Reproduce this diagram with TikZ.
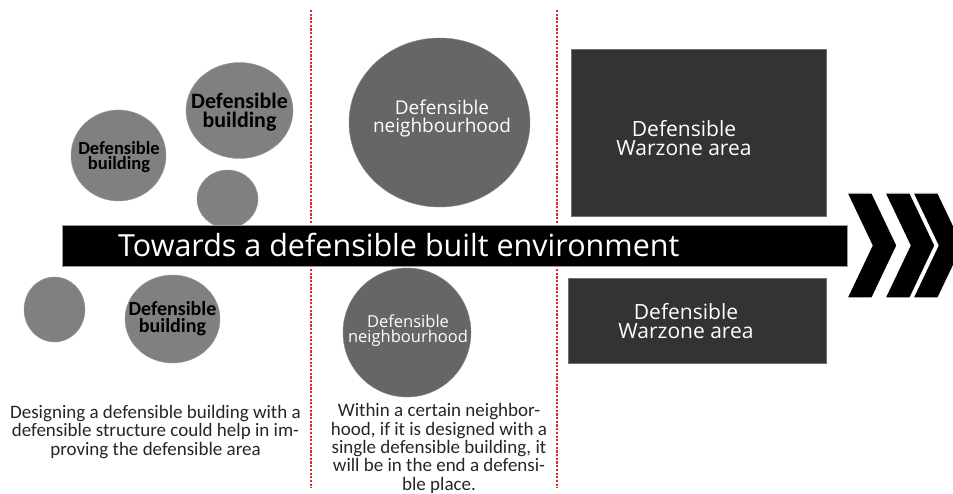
\documentclass[tikz,border=0pt]{standalone}
\usepackage{fontspec}
\setmainfont{Carlito}
\newfontfamily\seg{Open Sans}
\usetikzlibrary{shapes.geometric}
\definecolor{lightblob}{HTML}{808080}
\definecolor{darkblob}{HTML}{666666}
\definecolor{rectgray}{HTML}{333333}
\definecolor{dotred}{HTML}{E02A2A}
\tikzset{
  blob/.style={ellipse, fill=lightblob, draw=lightblob!80, line width=0.4, inner sep=0},
  nblob/.style={ellipse, fill=darkblob, draw=darkblob!80, line width=0.4, inner sep=0},
  blbl/.style={text=black, align=center, inner sep=0, font=\bfseries},
  nlbl/.style={text=white, align=center, inner sep=0},
  zone/.style={rectangle, fill=rectgray, draw=rectgray!70, line width=0.5, inner sep=0},
  divider/.style={dotred, line width=2.3, dash pattern=on 2.2 off 1.5},
  chev/.style={fill=black, draw=white, line width=1.2},
  caption/.style={align=center, text=black!85, inner sep=0}
}
\begin{document}
\begin{tikzpicture}[x=1pt,y=-1pt]
\clip (0,0) rectangle (953,494);
\fill[white] (0,0) rectangle (953,494);

% dividers
\draw[divider] (310.7,10) -- (310.7,488);
\draw[divider] (556.8,10) -- (556.8,488);

% light circles (buildings)
\node[blob, minimum width=95, minimum height=91] (b1) at (118.5,155.5) {};
\node[blbl, font=\bfseries\fontsize{18.5}{15.5}\selectfont] (b1t) at (119,157) {Defensible\\building};
\node[blob, minimum width=107, minimum height=96] (b2) at (239.5,110.5) {};
\node[blbl, font=\bfseries\fontsize{22}{19.5}\selectfont] (b2t) at (239.5,112) {Defensible\\building};
\node[blob, minimum width=61, minimum height=58] (b3) at (227.5,199) {};
\node[blob, minimum width=61, minimum height=65] (b4) at (54.5,309.5) {};
\node[blob, minimum width=95, minimum height=88] (b5) at (172.5,319) {};
\node[blbl, font=\bfseries\fontsize{20}{17}\selectfont] (b5t) at (b5.center) {Defensible\\building};

% neighbourhood circles
\node[nblob, minimum width=181, minimum height=169] (n1) at (439.5,122.5) {};
\node[nlbl, font=\seg\fontsize{19}{18}\selectfont] (n1t) at (442,119) {Defensible\\neighbourhood};
\node[nblob, minimum width=128, minimum height=129] (n2) at (407,332.5) {};
\node[nlbl, font=\seg\fontsize{16.5}{15}\selectfont] (n2t) at (408,331) {Defensible\\neighbourhood};

% warzone rectangles
\node[zone, minimum width=255, minimum height=167] (w1) at (698.5,132.5) {};
\node[nlbl, font=\seg\fontsize{21}{19}\selectfont] (w1t) at (684,138) {Defensible\\Warzone area};
\node[zone, minimum width=258, minimum height=85] (w2) at (697,320.5) {};
\node[nlbl, font=\seg\fontsize{21}{18.5}\selectfont] (w2t) at (686,321) {Defensible\\Warzone area};

% bar
\node[rectangle, fill=black, draw=black!40, line width=0.6, minimum width=785, minimum height=41, inner sep=0] (bar) at (454.5,245.5) {};
\node[anchor=base west, text=white, inner sep=0, font=\seg\fontsize{30.5}{32}\selectfont] (bart) at (118,256.5) {Towards a defensible built environment};

% chevrons
\foreach \x in {847,885,913}{
  \filldraw[chev] (\x,193) -- (\x+25,193) -- (\x+50,245.5) -- (\x+25,298) -- (\x,298) -- (\x+25,245.5) -- cycle;
}

% captions (base anchor = last line baseline)
\node[caption, anchor=base, font=\fontsize{19}{18.5}\selectfont] (c1) at (155.5,455) {Designing a defensible building with a\\defensible structure could help in im-\\proving the defensible area};
\node[caption, anchor=base, font=\fontsize{19}{18.3}\selectfont] (c2) at (439,490) {Within a certain neighbor-\\hood, if it is designed with a\\single defensible building, it\\will be in the end a defensi-\\ble place.};
\end{tikzpicture}
\end{document}
